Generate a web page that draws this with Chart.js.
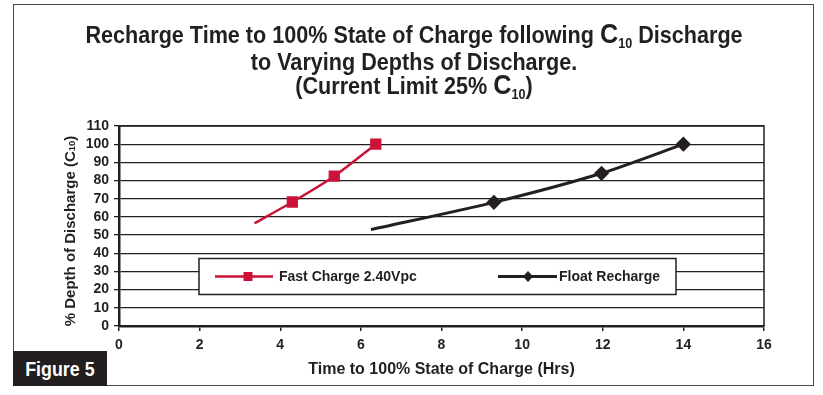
<!DOCTYPE html>
<html>
<head>
<meta charset="utf-8">
<script src="https://cdn.jsdelivr.net/npm/chart.js@4.4.0/dist/chart.umd.min.js"></script>
<style>
  html, body { margin: 0; padding: 0; background: #fff; width: 823px; height: 395px; overflow: hidden; }
  #frame { position: absolute; left: 13px; top: 4px; width: 801px; height: 382px; border: 1.5px solid #4a4a4a; box-sizing: border-box; }
  #title { position: absolute; left: 14px; width: 800px; top: 22px; text-align: center;
           font-family: "Liberation Sans", Arial, sans-serif; font-weight: bold;
           font-size: 24px; line-height: 23px; color: #231f20; }
  #title .ln { display: block; white-space: nowrap; transform: scaleX(0.9); transform-origin: 50% 50%; }
  #title .big { font-size: 28px; }
  #title sub { font-size: 14px; vertical-align: baseline; position: relative; top: 5px; }
  #fig { position: absolute; left: 13px; top: 351px; width: 94px; height: 35px; background: #231f20; color: #fff;
         font-family: "Liberation Sans", Arial, sans-serif; font-weight: bold; font-size: 21px;
         line-height: 35px; text-align: center; }
  #fig span { display: inline-block; transform: scaleX(0.85); }
  #c { position: absolute; left: 0; top: 0; }
</style>
</head>
<body>
<div id="frame"></div>
<canvas id="c" width="823" height="395"></canvas>
<div id="title"><span class="ln">Recharge Time to 100% State of Charge following <span class="big">C</span><sub>10</sub> Discharge</span><span class="ln">to Varying Depths of Discharge.</span><span class="ln">(Current Limit 25% <span class="big">C</span><sub>10</sub>)</span></div>
<div id="fig"><span>Figure 5</span></div>
<script>
// ---- data ----
const fastLabel = "Fast Charge 2.40Vpc";
const fastX = [3.36, 4.30, 5.34, 6.37];
const fastY = [56.5, 68.2, 82.4, 100];
const floatLabel = "Float Recharge";
const floatX = [6.25, 9.30, 11.97, 14.0];
const floatY = [53, 68, 84, 100];
const xTicks = [0, 2, 4, 6, 8, 10, 12, 14, 16];
const yTicks = [0, 10, 20, 30, 40, 50, 60, 70, 80, 90, 100, 110];
const xTitle = "Time to 100% State of Charge (Hrs)";
const yTitleMain = "% Depth of Discharge (C";
const yTitleSub = "10";

const RED = "#cc1238";
const DARK = "#231f20";
const FONT = "'Liberation Sans', Arial, sans-serif";

function pts(xs, ys) { return xs.map((x, i) => ({ x: x, y: ys[i] })); }

const frameAndLegend = {
  id: "frameAndLegend",
  afterDatasetsDraw(chart) {
    const { ctx, chartArea: a } = chart;
    ctx.save();
    ctx.strokeStyle = DARK;
    ctx.lineWidth = 1.5;
    ctx.beginPath();
    ctx.moveTo(a.left, a.top);
    ctx.lineTo(a.right, a.top);
    ctx.lineTo(a.right, a.bottom);
    ctx.stroke();
    // legend box
    const bx = 199, by = 258.5, bw = 477, bh = 36;
    ctx.fillStyle = "#fff";
    ctx.fillRect(bx, by, bw, bh);
    ctx.lineWidth = 1.5;
    ctx.strokeStyle = DARK;
    ctx.strokeRect(bx, by, bw, bh);
    const cy = by + bh / 2;
    ctx.font = "bold 14px " + FONT;
    ctx.textBaseline = "middle";
    ctx.textAlign = "left";
    ctx.strokeStyle = RED; ctx.lineWidth = 2.5;
    ctx.beginPath(); ctx.moveTo(215, cy); ctx.lineTo(273, cy); ctx.stroke();
    ctx.fillStyle = RED; ctx.fillRect(243.5, cy - 4.5, 9, 9);
    ctx.fillStyle = DARK; ctx.fillText(chart.data.datasets[0].label, 279, cy + 1);
    ctx.strokeStyle = DARK; ctx.lineWidth = 3;
    ctx.beginPath(); ctx.moveTo(498, cy); ctx.lineTo(557, cy); ctx.stroke();
    ctx.fillStyle = DARK;
    ctx.beginPath(); ctx.moveTo(528, cy - 5.5); ctx.lineTo(533, cy); ctx.lineTo(528, cy + 5.5); ctx.lineTo(523, cy); ctx.closePath(); ctx.fill();
    ctx.fillText(chart.data.datasets[1].label, 559, cy + 1);
    // y-axis title with subscript
    ctx.translate(70, 231);
    ctx.rotate(-Math.PI / 2);
    const big = "bold 15px " + FONT, small = "bold 9.5px " + FONT;
    ctx.font = big;
    const w1 = ctx.measureText(yTitleMain).width;
    ctx.font = small;
    const w2 = ctx.measureText(yTitleSub).width;
    ctx.font = big;
    const w3 = ctx.measureText(")").width;
    let sx = -(w1 + w2 + w3) / 2;
    ctx.textBaseline = "alphabetic";
    ctx.fillStyle = DARK;
    ctx.fillText(yTitleMain, sx, 5);
    sx += w1;
    ctx.font = small;
    ctx.fillText(yTitleSub, sx, 5);
    sx += w2;
    ctx.font = big;
    ctx.fillText(")", sx, 5);
    ctx.restore();
  }
};

new Chart(document.getElementById("c"), {
  type: "line",
  data: {
    datasets: [
      {
        label: fastLabel,
        data: pts(fastX, fastY),
        borderColor: RED, backgroundColor: RED,
        borderWidth: 2.5,
        pointStyle: "rect",
        pointRadius: [0, 6.2, 6.2, 6.2],
        pointHoverRadius: 0,
        tension: 0.25,
        fill: false
      },
      {
        label: floatLabel,
        data: pts(floatX, floatY),
        borderColor: DARK, backgroundColor: DARK,
        borderWidth: 3,
        pointStyle: "rectRot",
        pointRadius: [0, 5.5, 5.5, 5.5],
        pointHoverRadius: 0,
        tension: 0.25,
        fill: false
      }
    ]
  },
  options: {
    responsive: false,
    animation: false,
    events: [],
    layout: { padding: { left: 0, right: 59, top: 126, bottom: 12 } },
    plugins: { legend: { display: false }, tooltip: { enabled: false }, title: { display: false } },
    scales: {
      x: {
        type: "linear", min: 0, max: 16,
        afterBuildTicks(s) { s.ticks = xTicks.map(v => ({ value: v })); },
        afterFit(s) { s.height = 57; },
        ticks: { color: DARK, padding: 6, autoSkip: false, maxRotation: 0, font: { family: FONT, weight: "bold", size: 14 } },
        grid: { drawOnChartArea: false, drawTicks: true, tickLength: 5, color: DARK, lineWidth: 1.5 },
        border: { color: DARK, width: 2.5 },
        title: { display: true, text: xTitle, color: DARK, padding: { top: 2, bottom: 4 },
                 font: { family: FONT, weight: "bold", size: 16 } }
      },
      y: {
        type: "linear", min: 0, max: 110,
        afterBuildTicks(s) { s.ticks = yTicks.map(v => ({ value: v })); },
        afterFit(s) { s.width = 119; },
        ticks: { color: DARK, padding: 5, autoSkip: false, font: { family: FONT, weight: "bold", size: 14 } },
        grid: { color: DARK, lineWidth: 1.3, tickLength: 5 },
        border: { color: DARK, width: 2.5 }
      }
    }
  },
  plugins: [frameAndLegend]
});
</script>
</body>
</html>
